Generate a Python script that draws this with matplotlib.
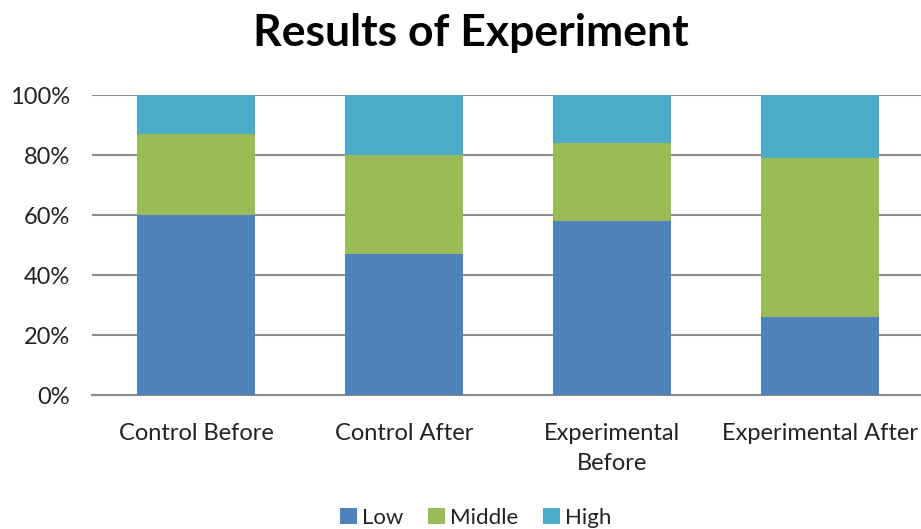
import matplotlib
matplotlib.use("Agg")
import matplotlib.pyplot as plt
import numpy as np
from matplotlib.ticker import PercentFormatter

categories = ["Control Before", "Control After", "Experimental\nBefore", "Experimental After"]
low = [60, 47, 58, 26]
middle = [27, 33, 26, 53]
high = [13, 20, 16, 21]

plt.rcParams['font.family'] = ['Lato', 'DejaVu Sans']

fig = plt.figure(figsize=(9.21, 5.29), dpi=100)
ax = fig.add_axes([92 / 921, 134 / 529, 832 / 921, 300 / 529])

x = np.arange(len(categories))
w = 0.567
ax.bar(x, low, w, color='#4F81BD', label='Low', zorder=3)
ax.bar(x, middle, w, bottom=low, color='#9BBB59', label='Middle', zorder=3)
bottom2 = np.array(low) + np.array(middle)
ax.bar(x, high, w, bottom=bottom2, color='#4BACC6', label='High', zorder=3)

ax.set_xlim(-0.5, 3.5)
ax.set_ylim(0, 100)
ax.set_yticks(range(0, 101, 20))
ax.yaxis.set_major_formatter(PercentFormatter(decimals=0))
ax.grid(axis='y', color='#8C8C8C', linewidth=1.5, zorder=0)
for s in ['left', 'right', 'top']:
    ax.spines[s].set_visible(False)
ax.spines['bottom'].set_color('#8C8C8C')
ax.spines['bottom'].set_linewidth(1.5)
ax.tick_params(axis='y', length=0, pad=16, labelsize=17, labelcolor='#222222')
ax.tick_params(axis='x', length=0, pad=20, labelsize=17, labelcolor='#222222')
ax.set_xticks(x)
ax.set_xticklabels(categories, linespacing=1.55)

fig.text(471 / 921, 1 - 33 / 529, "Results of Experiment", ha='center', va='center',
         fontsize=32, fontweight='bold', color='black')

fig.legend(loc='center', bbox_to_anchor=(476 / 921, 1 - 518 / 529), ncol=3, frameon=False,
           fontsize=16, handlelength=0.75, handleheight=0.75, handletextpad=0.25,
           columnspacing=1.1, labelcolor='#222222')

fig.savefig('out.png', dpi=100)
